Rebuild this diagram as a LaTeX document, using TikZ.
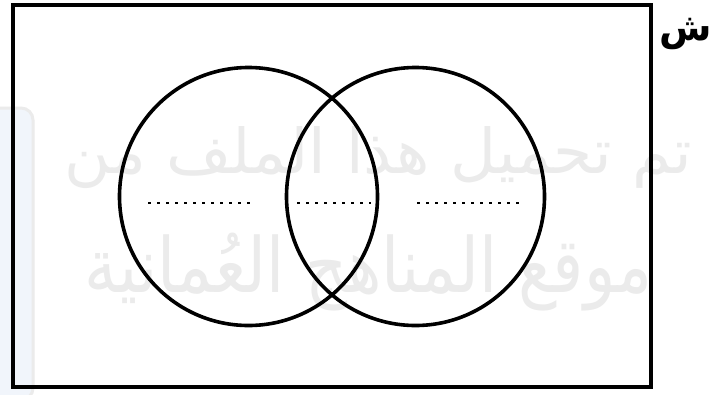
\documentclass[tikz,border=0pt]{standalone}
\usepackage{fontspec}
\newfontfamily\arabicfont[Script=Arabic]{DejaVu Sans}
\TeXXeTstate=1
\definecolor{wmgray}{HTML}{EBEBEB}
\definecolor{wmfill}{HTML}{F1F5FB}
\tikzset{
  frame/.style={line width=4pt, draw=black},
  setcircle/.style={line width=3.6pt, draw=black},
  blankline/.style={line width=2.6pt, dash pattern=on 2.6pt off 6.4pt, draw=black},
  watermark/.style={text=wmgray, inner sep=0pt}
}
\begin{document}
\begin{tikzpicture}[x=1pt,y=-1pt]
\useasboundingbox (0,0) rectangle (711,394);
\fill[white] (0,0) rectangle (711,394);
% faint watermark logo bar
\draw[fill=wmfill, draw=wmgray, line width=3pt, rounded corners=12pt] (-5,108) -- (33,108) -- (33,400) -- (-5,400);
% watermark text
\node[watermark, anchor=base east] (wm1) at (692,173) {\resizebox{627pt}{47pt}{\arabicfont\beginR تم تحميل هذا الملف من\endR}};
\node[watermark, anchor=base east] (wm2) at (653,292) {\resizebox{568pt}{59pt}{\arabicfont\beginR موقع المناهج العُمانية\endR}};
% frame
\draw[frame] (12.5,5) rectangle (650.5,386.5);
\node[anchor=base west, inner sep=0pt, font=\arabicfont\bfseries\fontsize{38}{38}\selectfont] (lbl) at (659,40) {\beginR ش\endR};
% circles
\node[setcircle, circle, minimum size=258pt, inner sep=0pt] (A) at (248.5,196.5) {};
\node[setcircle, circle, minimum size=258pt, inner sep=0pt] (B) at (415.5,196.5) {};
% blanks
\coordinate (l1) at (148,203); \coordinate (l2) at (251,203);
\coordinate (m1) at (297,203); \coordinate (m2) at (371,203);
\coordinate (r1) at (417,203); \coordinate (r2) at (521,203);
\draw[blankline] (l1) -- (l2);
\draw[blankline] (m1) -- (m2);
\draw[blankline] (r1) -- (r2);
\end{tikzpicture}
\end{document}
